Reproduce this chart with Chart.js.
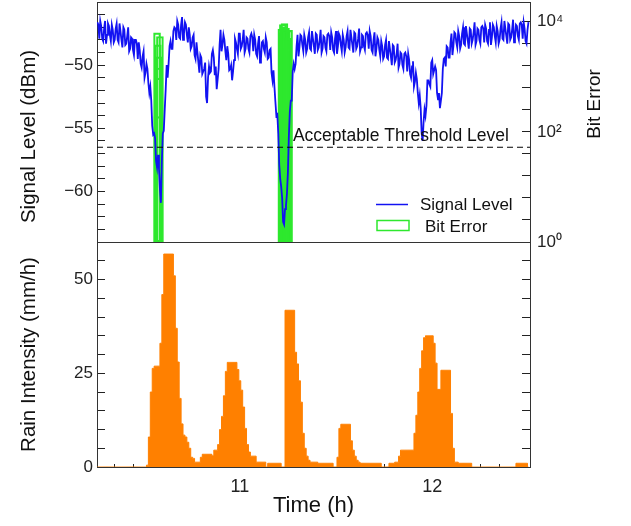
<!DOCTYPE html>
<html>
<head>
<meta charset="utf-8">
<title>Signal level, bit error and rain intensity</title>
<script src="https://cdn.jsdelivr.net/npm/chart.js@4.4.1/dist/chart.umd.min.js"></script>
<style>
  html, body { margin: 0; padding: 0; background: #fff; }
  #wrap { width: 631px; height: 526px; }
</style>
</head>
<body>
<div id="wrap"><canvas id="rainLinkChart" width="631" height="526"></canvas></div>
<script>
// both records start at 10.26 h; signal every 0.005 h, rain every 0.01 h
const startHour = 10.26;
const signalStepHour = 0.005;
const rainStepHour = 0.01;
const hourRange = [10.258, 12.508];

// received signal level (dBm)
const signalLevel = [
  -46.6, -46.8, -47.9, -46.5, -46.9, -47.9, -48.1, -47.1, -46.5, -48.3,
  -47.6, -46.7, -46.9, -47.6, -48.1, -46.8, -47.2, -48.2, -48.0, -47.1,
  -46.7, -48.0, -48.2, -46.7, -47.3, -48.0, -48.6, -47.0, -47.2, -48.4,
  -48.3, -47.7, -47.0, -48.9, -48.7, -47.8, -47.9, -48.8, -49.2, -48.0,
  -48.0, -48.3, -49.5, -48.2, -48.8, -49.9, -50.2, -49.3, -48.9, -51.0,
  -50.6, -49.9, -50.3, -51.4, -52.2, -51.7, -52.8, -54.8, -55.5, -55.4,
  -55.8, -57.6, -58.1, -57.1, -58.2, -59.8, -60.9, -57.6, -55.4, -55.2,
  -53.5, -51.9, -50.0, -51.0, -49.9, -48.5, -48.1, -48.7, -48.7, -47.3,
  -47.0, -47.1, -48.0, -46.5, -46.8, -47.8, -47.9, -46.8, -46.2, -48.0,
  -47.5, -46.6, -46.8, -47.6, -48.2, -47.0, -47.6, -48.7, -48.5, -47.8,
  -47.6, -49.2, -49.5, -48.2, -49.0, -49.8, -50.6, -49.2, -49.4, -50.7,
  -50.5, -50.3, -49.8, -52.5, -53.0, -51.0, -50.1, -50.6, -50.5, -49.1,
  -48.8, -49.4, -50.8, -50.1, -51.9, -51.1, -50.3, -48.4, -47.2, -48.9,
  -48.4, -47.6, -48.0, -48.9, -49.6, -48.5, -49.1, -50.4, -50.3, -50.0,
  -51.2, -50.5, -49.6, -47.9, -48.2, -48.7, -49.1, -47.5, -47.5, -48.7,
  -48.5, -48.0, -47.2, -49.0, -48.7, -47.8, -47.9, -48.7, -49.0, -47.7,
  -47.5, -47.8, -48.9, -47.6, -48.0, -49.1, -49.3, -48.3, -47.7, -49.8,
  -49.5, -48.2, -48.1, -48.7, -49.0, -47.8, -48.2, -49.5, -49.4, -48.8,
  -48.7, -50.6, -51.2, -50.4, -51.7, -52.9, -54.0, -53.9, -55.4, -57.9,
  -59.0, -59.6, -60.5, -62.4, -62.6, -61.4, -61.1, -60.2, -58.5, -55.6,
  -53.7, -52.8, -52.8, -50.5, -49.9, -50.3, -49.9, -48.5, -47.6, -49.3,
  -48.6, -47.6, -47.7, -48.4, -48.9, -47.6, -48.0, -49.0, -48.7, -47.8,
  -47.4, -48.7, -48.8, -47.3, -47.9, -48.5, -49.1, -47.5, -47.6, -48.8,
  -48.6, -48.0, -47.2, -49.0, -48.7, -47.7, -47.8, -48.6, -48.9, -47.6,
  -47.5, -47.7, -48.8, -47.4, -47.8, -48.8, -49.0, -47.9, -47.3, -49.1,
  -48.5, -47.5, -47.7, -48.4, -48.9, -47.6, -48.0, -49.0, -48.6, -47.7,
  -47.3, -48.6, -48.7, -47.2, -47.8, -48.4, -49.0, -47.4, -47.5, -48.7,
  -48.5, -47.9, -47.1, -48.9, -48.6, -47.6, -47.7, -48.5, -48.8, -47.5,
  -47.4, -47.6, -48.7, -47.3, -47.7, -48.8, -49.0, -48.0, -47.4, -49.3,
  -48.7, -47.8, -48.0, -48.8, -49.3, -48.1, -48.5, -49.5, -49.3, -48.4,
  -48.0, -49.4, -49.5, -48.1, -48.7, -49.3, -50.0, -48.4, -48.5, -49.8,
  -49.6, -49.1, -48.3, -50.2, -49.9, -49.0, -49.1, -50.0, -50.3, -49.1,
  -49.0, -49.3, -50.5, -49.1, -49.6, -50.7, -51.0, -50.1, -49.7, -51.7,
  -51.3, -50.6, -51.1, -52.2, -53.0, -52.4, -53.4, -55.4, -56.0, -54.5,
  -53.5, -54.0, -53.2, -51.2, -51.2, -51.5, -51.7, -49.8, -49.6, -50.7,
  -50.4, -50.1, -50.4, -52.2, -52.7, -52.2, -53.4, -52.8, -52.2, -50.3,
  -49.5, -49.4, -50.1, -48.5, -48.6, -49.4, -49.4, -48.2, -47.5, -49.2,
  -48.5, -47.4, -47.5, -48.2, -48.6, -47.3, -47.7, -48.7, -48.4, -47.5,
  -47.0, -48.3, -48.4, -46.9, -47.5, -48.1, -48.7, -47.1, -47.2, -48.3,
  -48.0, -47.4, -46.6, -48.4, -48.1, -47.1, -47.2, -48.0, -48.3, -47.0,
  -46.9, -47.1, -48.2, -46.8, -47.1, -48.1, -48.3, -47.2, -46.6, -48.4,
  -47.8, -46.8, -47.0, -47.7, -48.2, -46.9, -47.3, -48.3, -48.0, -47.1,
  -46.6, -47.9, -48.0, -46.5, -47.1, -47.7, -48.3, -46.7, -46.8, -48.0,
  -47.8, -47.2, -46.4, -48.2, -47.8, -46.8, -46.9, -47.7, -48.0, -46.7,
  -46.6, -46.8, -47.9, -46.6, -47.1, -48.1, -48.3, -47.2, -46.6
];

// rain intensity (mm/h)
const rainIntensity = [
  0, 0, 0, 0, 0, 0, 0, 0, 0, 0,
  0, 0, 0, 0, 0, 0, 0, 0, 0, 0,
  0, 0, 0, 0, 0,
  0, 0.5, 8, 20, 26.3, 26.9, 26.9, 26.9, 33, 46,
  56.8, 56.8, 56.8, 56.8, 56.8, 51, 37, 28, 18.3, 11.5,
  8.5, 8, 6.6, 5, 2.6, 2.3, 1.3, 1.3, 1.3, 2.6,
  3.4, 3.4, 3.4, 3.4, 3.4, 3, 4.5, 4.5, 6, 10,
  13.5, 19, 25.5, 27.9, 27.9, 27.9, 27.9, 27.9, 26, 23,
  20.5, 16, 10.3, 6, 4, 2.9, 2.9, 2.9, 1.3, 1.3,
  1.3, 1.3, 1.3, 0, 1, 1, 1, 1, 1, 1,
  1, 0, 0, 41.8, 41.8, 41.8, 41.8, 41.8, 30.6, 27.5,
  23, 17.3, 9, 5, 2.9, 1.8, 1.3, 1.3, 1.3, 1.3,
  1, 1, 1, 1, 1, 1, 1, 1, 0, 0,
  2.6, 10.3, 11.4, 11.4, 11.4, 11.4, 11.4, 7, 4.5, 2.9,
  1.8, 1.3, 1, 1, 1, 1, 1, 1, 1, 1,
  1, 1, 1, 0, 0, 0, 0, 1, 1, 1,
  1.3, 1.3, 2.9, 4.5, 4.5, 4.5, 4.5, 4.5, 4.5, 4.5,
  9, 13.8, 20, 26.3, 31, 34.5, 35, 35, 35, 35,
  33, 27.7, 20.7, 20.7, 25.8, 25.8, 25.8, 25.8, 25.8, 14.3,
  5, 1.3, 1.3, 1, 1, 1, 1, 1, 1, 1,
  0, 0, 0, 0, 0, 0, 0, 0, 0, 0,
  0, 0, 0, 0, 0, 0, 0, 0, 0, 0,
  0, 0, 0, 1, 1, 1, 1, 1, 1, 0
];

// bit error bursts
const bitErrorTime = [
  10.570, 10.585, 10.574, 10.581, 10.577, 10.583, 10.572,
  11.216, 11.220, 11.224, 11.228, 11.232, 11.236, 11.240, 11.244, 11.248, 11.252, 11.256
];
const bitErrorCount = [
  6300, 5400, 3800, 2300, 1450, 950, 190,
  7400, 6300, 8900, 7900, 9300, 7100, 7600, 6600, 3200, 5000, 7000
];

const thresholdLevel = -56.5;
const thresholdLabelHour = 11.276;

const hourTicks = [11, 12];
const signalTicks = [-50, -55, -60];
const rainTicks = [0, 25, 50];
const bitErrorTickExponents = [0, 0.4, 0.8, 1.2, 1.6, 2, 2.4, 2.8, 3.2, 3.6, 4];
const bitErrorTickValues = [1, 100, 10000];
const bitErrorTickLabels = ['10\u2070', '10\u00b2', '10\u2074'];

const FONT = "'Liberation Sans', Arial, Helvetica, sans-serif";
const signalHours = signalLevel.map((v, i) => Math.round((startHour + i * signalStepHour) * 1000) / 1000);
const rainHours = rainIntensity.map((v, i) => Math.round((startHour + i * rainStepHour) * 100) / 100);

// horizontal frame lines (top edge and the divider between panels)
const panelFrame = {
  id: 'panelFrame',
  beforeDatasetsDraw(chart) {
    const {ctx, chartArea, scales} = chart;
    const yTop = Math.round(chartArea.top) + 0.5;
    const yMid = Math.round(scales.ySig.bottom) + 0.5;
    ctx.save();
    ctx.strokeStyle = '#333';
    ctx.lineWidth = 1;
    ctx.beginPath();
    ctx.moveTo(chartArea.left, yTop);
    ctx.lineTo(chartArea.right, yTop);
    ctx.moveTo(chartArea.left, yMid);
    ctx.lineTo(chartArea.right, yMid);
    ctx.stroke();
    ctx.restore();
  }
};

// threshold label, in-plot legend and the two rotated titles of the upper panel
const annotations = {
  id: 'annotations',
  afterDraw(chart) {
    const {ctx, chartArea, scales: {x, ySig, yBer}} = chart;
    ctx.save();
    ctx.fillStyle = '#111';
    ctx.textAlign = 'left';
    ctx.textBaseline = 'alphabetic';
    ctx.font = '17.5px ' + FONT;
    ctx.fillText('Acceptable Threshold Level', x.getPixelForValue(thresholdLabelHour),
      ySig.getPixelForValue(thresholdLevel) - 6);

    const lx = chartArea.left;
    const ly = chartArea.top;
    ctx.strokeStyle = '#1212f2';
    ctx.lineWidth = 1.5;
    ctx.beginPath();
    ctx.moveTo(lx + 279, ly + 202.5);
    ctx.lineTo(lx + 311, ly + 202.5);
    ctx.stroke();
    ctx.strokeStyle = '#2ee82e';
    ctx.strokeRect(lx + 280, ly + 218.5, 32, 10);
    ctx.font = '17px ' + FONT;
    ctx.fillText('Signal Level', lx + 323, ly + 208);
    ctx.fillText('Bit Error', lx + 328, ly + 230);

    ctx.textAlign = 'center';
    ctx.textBaseline = 'middle';
    ctx.font = '20.5px ' + FONT;
    ctx.save();
    ctx.translate(ySig.left + 29.5, ySig.top + 134.5);
    ctx.rotate(-Math.PI / 2);
    ctx.fillText('Signal Level (dBm)', 0, 0);
    ctx.restore();
    ctx.font = '19px ' + FONT;
    ctx.translate(yBer.left + 65, yBer.top + 102);
    ctx.rotate(-Math.PI / 2);
    ctx.fillText('Bit Error', 0, 0);
    ctx.restore();
  }
};

const tickFont = { family: FONT, size: 17 };
const innerGrid = len => ({ drawOnChartArea: false, tickLength: -len, tickColor: '#222', tickWidth: 1 });
const frameBorder = { color: '#333', width: 1 };
// fixed axis sizes, and no extra room reserved for the end tick labels
const fixWidth = w => s => { s.width = w; s.paddingTop = 0; s.paddingBottom = 0; };
const fixHeight = h => s => { s.height = h; s.paddingLeft = 0; s.paddingRight = 0; };

new Chart(document.getElementById('rainLinkChart'), {
  type: 'line',
  data: {
    datasets: [{
      label: 'Acceptable Threshold Level',
      data: hourRange.map(h => ({ x: h, y: thresholdLevel })),
      yAxisID: 'ySig',
      borderColor: '#000',
      borderWidth: 1,
      borderDash: [6, 4],
      pointRadius: 0,
      order: 1
    }, {
      label: 'Signal Level',
      data: signalHours.map((h, i) => ({ x: h, y: signalLevel[i] })),
      yAxisID: 'ySig',
      borderColor: '#1212f2',
      borderWidth: 1.8,
      pointRadius: 0,
      tension: 0,
      order: 2
    }, {
      type: 'bar',
      label: 'Bit Error',
      data: bitErrorTime.map((h, i) => ({ x: h, y: bitErrorCount[i] })),
      yAxisID: 'yBer',
      backgroundColor: 'rgba(0,0,0,0)',
      borderColor: '#2ee82e',
      borderWidth: 1.5,
      borderSkipped: false,
      barThickness: 7,
      order: 3
    }, {
      label: 'Rain Intensity',
      data: rainHours.map((h, i) => ({ x: h, y: rainIntensity[i] })),
      yAxisID: 'yRain',
      stepped: 'middle',
      fill: 'origin',
      backgroundColor: '#ff8000',
      borderColor: '#ff8000',
      borderWidth: 1,
      pointRadius: 0,
      order: 4
    }]
  },
  options: {
    responsive: false,
    animation: false,
    devicePixelRatio: 1,
    layout: { autoPadding: false, padding: { top: 2, left: 0, right: 0, bottom: 0 } },
    plugins: { legend: { display: false }, tooltip: { enabled: false } },
    scales: {
      x: {
        type: 'linear',
        position: 'bottom',
        min: hourRange[0],
        max: hourRange[1],
        offset: false,
        afterFit: fixHeight(59),
        grid: innerGrid(3),
        border: frameBorder,
        ticks: {
          stepSize: 0.1,
          includeBounds: false,
          autoSkip: false,
          maxRotation: 0,
          padding: 12,
          color: '#222',
          font: { family: FONT, size: 18 },
          callback: v => {
            const h = hourTicks.find(t => Math.abs(t - v) < 1e-6);
            return h === undefined ? '' : String(h);
          }
        },
        title: {
          display: true,
          text: 'Time (h)',
          color: '#111',
          font: { family: FONT, size: 22 },
          padding: { top: 0, bottom: 7 }
        }
      },
      yRain: {
        type: 'linear',
        position: 'left',
        stack: 'left',
        stackWeight: 225,
        min: 0,
        max: 60,
        afterFit: fixWidth(97),
        grid: innerGrid(8),
        border: frameBorder,
        ticks: {
          stepSize: 5,
          autoSkip: false,
          padding: 12,
          color: '#222',
          font: tickFont,
          callback: v => rainTicks.includes(v) ? String(v) : ''
        },
        title: {
          display: true,
          text: 'Rain Intensity (mm/h)',
          color: '#111',
          font: { family: FONT, size: 20.5 },
          padding: { top: 17 }
        }
      },
      ySig: {
        type: 'linear',
        position: 'left',
        stack: 'left',
        stackWeight: 240,
        min: -64,
        max: -45,
        afterFit: fixWidth(97),
        grid: innerGrid(8),
        border: frameBorder,
        ticks: {
          stepSize: 1,
          autoSkip: false,
          padding: 12,
          color: '#222',
          font: tickFont,
          callback: v => signalTicks.includes(v) ? '\u2212' + Math.abs(v) : ''
        }
      },
      yBer: {
        type: 'logarithmic',
        position: 'right',
        stack: 'right',
        stackWeight: 240,
        min: 1,
        max: 22900,
        afterFit: fixWidth(101),
        afterBuildTicks: s => { s.ticks = bitErrorTickExponents.map(e => ({ value: Math.pow(10, e) })); },
        grid: innerGrid(8),
        border: frameBorder,
        ticks: {
          autoSkip: false,
          padding: 15,
          color: '#222',
          font: tickFont,
          callback: v => {
            const i = bitErrorTickValues.findIndex(t => Math.abs(Math.log10(t) - Math.log10(v)) < 1e-6);
            return i < 0 ? '' : bitErrorTickLabels[i];
          }
        }
      },
      yRainR: {
        type: 'linear',
        position: 'right',
        stack: 'right',
        stackWeight: 225,
        min: 0,
        max: 60,
        afterFit: fixWidth(101),
        grid: innerGrid(8),
        border: frameBorder,
        ticks: { stepSize: 5, autoSkip: false, padding: 15, font: tickFont, callback: () => '' }
      }
    }
  },
  plugins: [panelFrame, annotations]
});
</script>
</body>
</html>
